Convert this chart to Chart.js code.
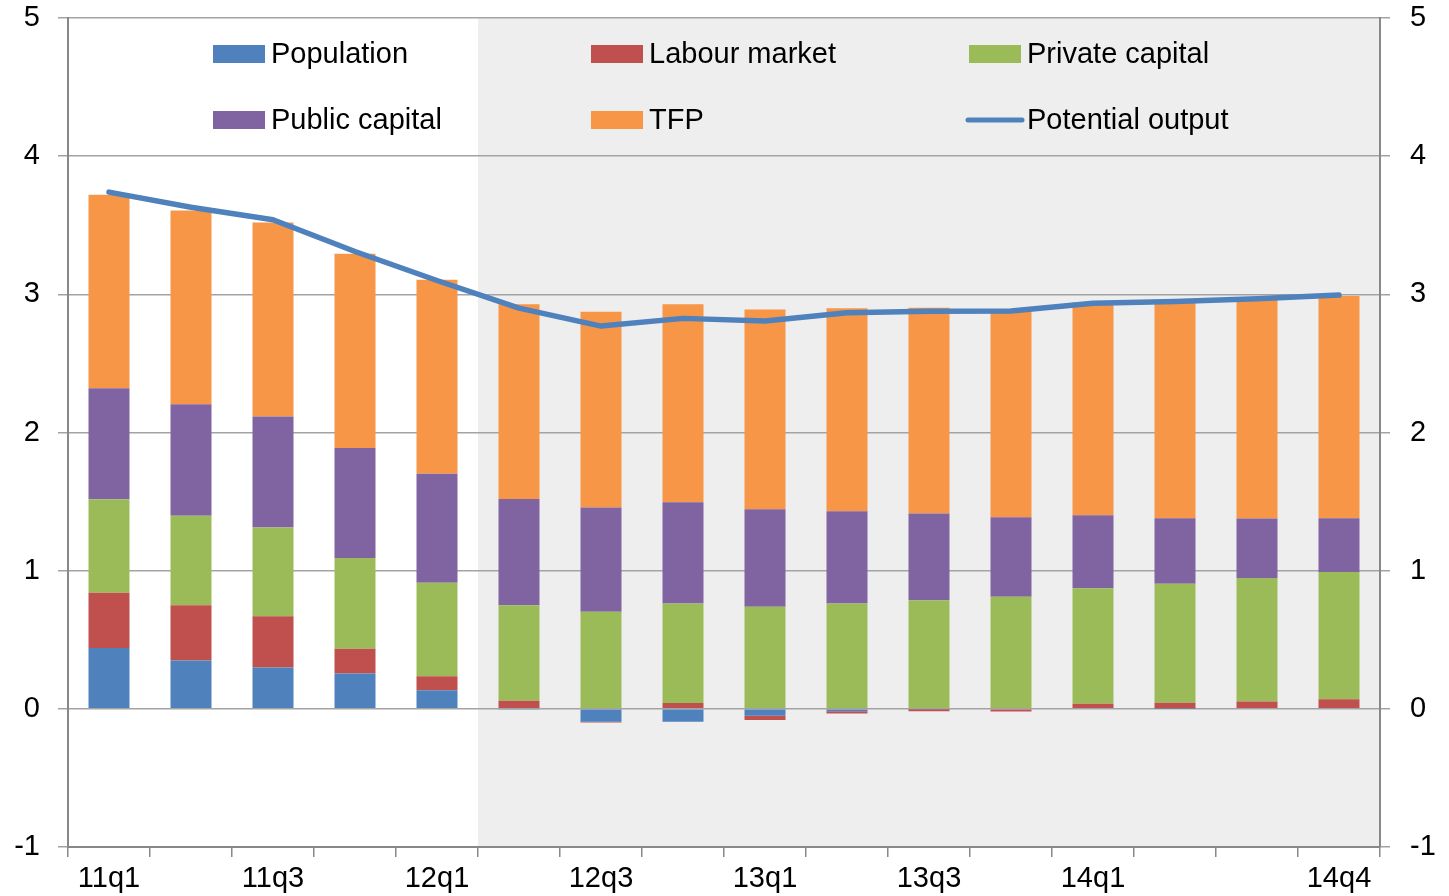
<!DOCTYPE html>
<html>
<head>
<meta charset="utf-8">
<script src="https://cdn.jsdelivr.net/npm/chart.js@4.4.0/dist/chart.umd.min.js"></script>
<style>
  body { margin: 0; background: #fff; }
  #wrap { width: 1449px; height: 896px; }
</style>
</head>
<body>
<div id="wrap"><canvas id="chart" width="1449" height="896"></canvas></div>
<script>
// quarters and the ones that get a label
const quarters = ["11q1", "11q2", "11q3", "11q4", "12q1", "12q2", "12q3", "12q4",
                  "13q1", "13q2", "13q3", "13q4", "14q1", "14q2", "14q3", "14q4"];
const tickLabels = ["11q1", "11q3", "12q1", "12q3", "13q1", "13q3", "14q1", "14q4"];
const forecastStart = "12q2";

// contributions (pp)
const population = [0.44, 0.35, 0.30, 0.255, 0.135, -0.007, -0.094, -0.094,
                    -0.05, -0.017, -0.003, 0, 0, 0.003, 0, 0];
const labourMarket = [0.40, 0.40, 0.37, 0.18, 0.10, 0.058, -0.005, 0.043,
                      -0.03, -0.017, -0.015, -0.02, 0.037, 0.041, 0.053, 0.07];
const privateCapital = [0.676, 0.647, 0.643, 0.656, 0.678, 0.691, 0.703, 0.72,
                        0.739, 0.763, 0.785, 0.812, 0.835, 0.862, 0.894, 0.92];
const publicCapital = [0.805, 0.808, 0.803, 0.797, 0.788, 0.77, 0.754, 0.732,
                       0.705, 0.667, 0.628, 0.574, 0.529, 0.473, 0.43, 0.389];
const tfp = [1.40, 1.402, 1.404, 1.405, 1.404, 1.409, 1.417, 1.433,
             1.447, 1.469, 1.49, 1.499, 1.539, 1.571, 1.588, 1.609];
const potentialOutput = [3.74, 3.63, 3.54, 3.31, 3.10, 2.90, 2.77, 2.826,
                         2.807, 2.867, 2.878, 2.879, 2.935, 2.948, 2.968, 2.995];

const FONT = "'Liberation Sans', Arial, sans-serif";
const tickFont = { family: FONT, size: 29 };

// grey background behind the forecast quarters
const shadePlugin = {
  id: "shade",
  beforeDraw(chart) {
    const { ctx, chartArea, scales } = chart;
    const i = quarters.indexOf(forecastStart);
    const x0 = (scales.x.getPixelForValue(i - 1) + scales.x.getPixelForValue(i)) / 2;
    ctx.save();
    ctx.fillStyle = "#eeeeee";
    ctx.fillRect(x0, chartArea.top, chartArea.right - x0, chartArea.bottom - chartArea.top);
    ctx.restore();
  }
};

// legend in three columns inside the plot
const legendPlugin = {
  id: "gridLegend",
  afterDraw(chart) {
    const ctx = chart.ctx;
    const cols = [213, 591, 969];
    const rows = [54, 120];
    ctx.save();
    ctx.font = "29px " + FONT;
    ctx.textBaseline = "middle";
    chart.data.datasets.forEach((ds, k) => {
      const x = cols[k % 3];
      const y = rows[Math.floor(k / 3)];
      if (ds.type === "line") {
        ctx.strokeStyle = ds.borderColor;
        ctx.lineWidth = 5;
        ctx.lineCap = "round";
        ctx.beginPath();
        ctx.moveTo(x - 1, y);
        ctx.lineTo(x + 53, y);
        ctx.stroke();
      } else {
        ctx.fillStyle = ds.backgroundColor;
        ctx.fillRect(x, y - 9, 52, 18);
      }
      ctx.fillStyle = "#000";
      ctx.fillText(ds.label, x + 58, y + 1);
    });
    ctx.restore();
  }
};

function bar(label, data, color) {
  return {
    type: "bar",
    label,
    data,
    backgroundColor: color,
    stack: "parts",
    order: 1,
    barPercentage: 0.5,
    categoryPercentage: 1
  };
}

// fixed axis sizes so the plot sits where the original has it
function fixY(width) {
  return s => {
    s.width = width;
    s.paddingTop = 18;
    s.paddingBottom = 0;
  };
}

new Chart(document.getElementById("chart"), {
  data: {
    labels: quarters,
    datasets: [
      bar("Population", population, "#4f81bd"),
      bar("Labour market", labourMarket, "#c0504d"),
      bar("Private capital", privateCapital, "#9bbb59"),
      bar("Public capital", publicCapital, "#8064a2"),
      bar("TFP", tfp, "#f79646"),
      {
        type: "line",
        label: "Potential output",
        data: potentialOutput,
        borderColor: "#4f81bd",
        borderWidth: 5.5,
        pointRadius: 0,
        tension: 0,
        borderCapStyle: "round",
        borderJoinStyle: "round",
        stack: "line",
        order: 0
      }
    ]
  },
  options: {
    responsive: false,
    animation: false,
    layout: { padding: 0 },
    plugins: {
      legend: { display: false },
      tooltip: { enabled: false }
    },
    scales: {
      x: {
        stacked: true,
        offset: true,
        grid: {
          offset: true,
          drawOnChartArea: false,
          tickLength: 10,
          color: "#888",
          lineWidth: 1.5
        },
        border: { color: "#888", width: 2 },
        ticks: {
          autoSkip: false,
          maxRotation: 0,
          padding: 5,
          color: "#000",
          font: tickFont,
          callback: (v, i) => tickLabels.includes(quarters[i]) ? quarters[i] : ""
        },
        afterFit: s => {
          s.height = 49;
          s.paddingLeft = 0;
          s.paddingRight = 0;
        }
      },
      y: {
        stacked: true,
        min: -1,
        max: 5,
        ticks: { stepSize: 1, padding: 18, color: "#000", font: tickFont },
        grid: { color: "#a3a3a3", lineWidth: 1.5, tickLength: 10 },
        border: { color: "#888", width: 2 },
        afterFit: fixY(68)
      },
      y2: {
        position: "right",
        min: -1,
        max: 5,
        ticks: { stepSize: 1, padding: 20, color: "#000", font: tickFont },
        grid: { drawOnChartArea: false, color: "#a3a3a3", lineWidth: 1.5, tickLength: 10 },
        border: { color: "#888", width: 2 },
        afterFit: fixY(69)
      }
    }
  },
  plugins: [shadePlugin, legendPlugin]
});
</script>
</body>
</html>
